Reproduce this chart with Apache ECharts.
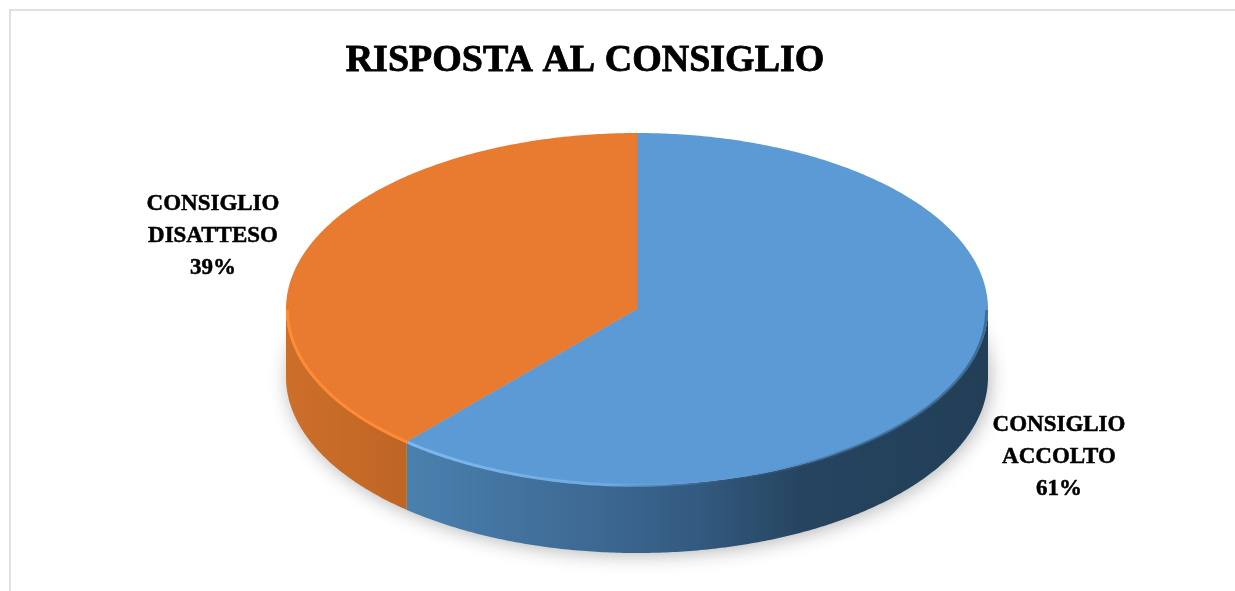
<!DOCTYPE html>
<html><head><meta charset="utf-8">
<style>html,body{margin:0;padding:0;background:#fff}#c{width:1235px;height:591px}</style>
<script src="https://cdn.jsdelivr.net/npm/echarts@6/dist/echarts.min.js"></script>
</head><body><div id="c"></div>
<script>
const chartTitle = 'RISPOSTA AL CONSIGLIO';
const categories = ['CONSIGLIO\nACCOLTO', 'CONSIGLIO\nDISATTESO'];
const shares = [61.4, 38.6];

const SERIF = '"Liberation Serif", serif';
const cx = 637, cy = 309, rx = 351, ry = 176, depth = 68;
const topColors = ['#5b9ad5', '#e97b31'];
const sideFills = [
  {type:'linear',x:0,y:0,x2:1,y2:0,colorStops:[
    {offset:0,color:'#4a80ae'},{offset:0.28,color:'#3f6c97'},{offset:0.5,color:'#335a80'},
    {offset:0.68,color:'#264460'},{offset:1,color:'#233f57'}]},
  {type:'linear',x:0,y:0,x2:1,y2:0,colorStops:[
    {offset:0,color:'#cc6f2b'},{offset:1,color:'#bf6523'}]}
];
const rimStrokes = [
  {type:'linear',x:0,y:0,x2:1,y2:0,colorStops:[
    {offset:0,color:'#7fb8ee'},{offset:0.35,color:'#6ea9e0'},{offset:0.55,color:'rgba(91,155,213,0)'},
    {offset:0.75,color:'rgba(50,90,125,0.55)'},{offset:1,color:'rgba(50,90,125,0.7)'}]},
  '#ff8b37'
];
const labelPos = [[1059, 457], [213, 236]];

const total = shares.reduce((a, b) => a + b, 0);
const px = (a, r = 1, dy = 0) => [cx + rx * r * Math.sin(a), cy + dy - ry * r * Math.cos(a)];
function arc(a0, a1, r = 1, dy = 0) {
  const n = Math.max(2, Math.ceil(Math.abs(a1 - a0) / 0.01));
  const out = [];
  for (let i = 0; i <= n; i++) out.push(px(a0 + (a1 - a0) * i / n, r, dy));
  return out;
}

function renderItem(params, api) {
  const i = params.dataIndex;
  let before = 0;
  for (let k = 0; k < i; k++) before += shares[k];
  const v = api.value(0);
  const a0 = before / total * 2 * Math.PI;
  const a1 = (before + v) / total * 2 * Math.PI;
  const children = [];
  // visible front wall: the part of the slice between 90 and 270 degrees
  const f0 = Math.max(a0, Math.PI / 2), f1 = Math.min(a1, 3 * Math.PI / 2);
  if (f1 > f0) {
    const topEdge = arc(f0, f1);
    const botEdge = arc(f1, f0, 1, depth);
    children.push({type:'polygon', z2:1, shape:{points: topEdge.concat(botEdge)},
      style:{fill: sideFills[i]}});
    children.push({type:'polyline', z2:3, shape:{points: arc(f0, f1, 0.996, 1)},
      style:{fill:'none', stroke: rimStrokes[i], lineWidth:3}});
  }
  children.push({type:'polygon', z2:2, shape:{points: [[cx, cy]].concat(arc(a0, a1))},
    style:{fill: topColors[i]}});
  children.push({type:'text', z2:5, style:{
    x: labelPos[i][0], y: labelPos[i][1],
    text: categories[i] + '\n' + Math.round(v) + '%',
    fill:'#000', stroke:'#000', lineWidth:0.5,
    font:'bold 23px ' + SERIF, lineHeight:32, align:'center', verticalAlign:'middle'}});
  return {type:'group', children};
}

const chart = echarts.init(document.getElementById('c'), null, {renderer:'canvas'});
chart.setOption({
  animation:false,
  backgroundColor:'#fff',
  title:{text:chartTitle, left:580, top:37, textAlign:'center',
    textStyle:{fontFamily:SERIF, fontWeight:'bold', fontSize:38, color:'#000',
      textBorderColor:'#000', textBorderWidth:0.8}},
  graphic:[
    {type:'rect', z:0, silent:true, shape:{x:10,y:10,width:1240,height:600},
      style:{fill:'#fff', stroke:'#e0e0e0', lineWidth:2}},
    {type:'ellipse', z:1, silent:true, shape:{cx:cx, cy:cy+depth-1, rx:rx-1, ry:ry-1},
      style:{fill:'#bbb', shadowBlur:20, shadowOffsetX:2, shadowOffsetY:3, shadowColor:'rgba(0,0,0,0.32)'}}
  ],
  series:[{type:'custom', coordinateSystem:'none', z:5, renderItem,
    data: shares.map((v, i) => ({name: categories[i], value:[v]}))}]
});
</script></body></html>
